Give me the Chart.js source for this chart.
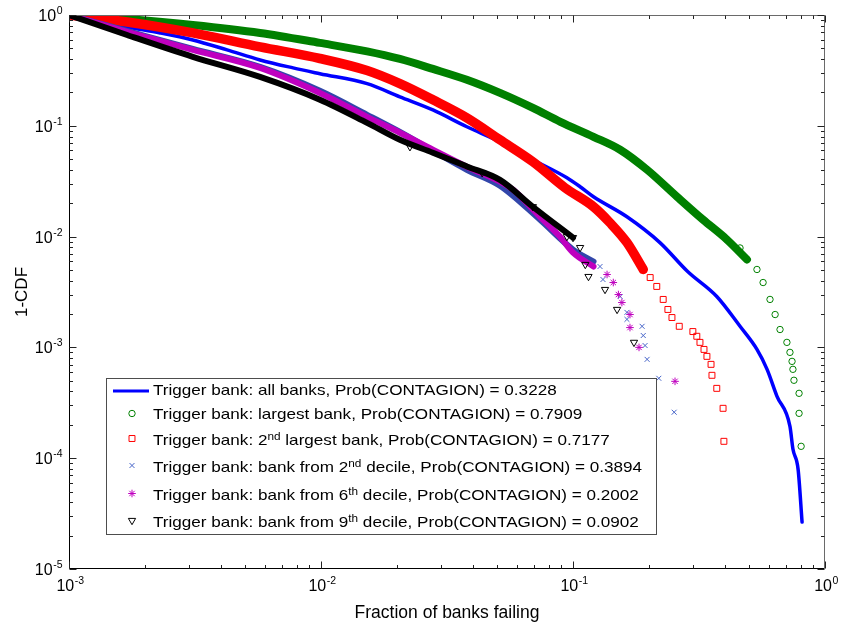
<!DOCTYPE html>
<html><head><meta charset="utf-8">
<script src="https://cdn.jsdelivr.net/npm/chart.js@4.4.0/dist/chart.umd.min.js"></script>
<style>
html,body{margin:0;padding:0;background:#fff;}
#wrap{position:relative;width:842px;height:624px;overflow:hidden;}
#legend{position:absolute;left:106px;top:378px;width:549px;height:155px;border:1px solid transparent;font-family:"Liberation Sans",Arial,sans-serif;font-size:14.5px;color:#000;}
#legend .row{position:absolute;left:46px;height:16px;line-height:16px;white-space:nowrap;transform-origin:0 50%;transform:scaleX(1.18);}
#legend sup{font-size:10px;line-height:0;position:relative;top:-5px;vertical-align:baseline;}
</style></head>
<body>
<div id="wrap">
<canvas id="chart" width="842" height="624"></canvas>
<div id="legend"></div>
</div>
<script>
// ---- tick labels (powers of ten) ----
const xTickExps = [-3, -2, -1, 0];
const yTickExps = [0, -1, -2, -3, -4, -5];

// ---- legend ----
const seriesLabels = [
  'Trigger bank: all banks',
  'Trigger bank: largest bank',
  'Trigger bank: 2<sup>nd</sup> largest bank',
  'Trigger bank: bank from 2<sup>nd</sup> decile',
  'Trigger bank: bank from 6<sup>th</sup> decile',
  'Trigger bank: bank from 9<sup>th</sup> decile'
];
const contagionProb = ['0.3228', '0.7909', '0.7177', '0.3894', '0.2002', '0.0902'];

// ---- all banks (line) ----
const allBanksX = [0.001, 0.0017, 0.0023, 0.0031, 0.00424, 0.00573, 0.00775, 0.0099, 0.01524, 0.02056, 0.0278, 0.0379, 0.0513, 0.0693, 0.0946, 0.1067, 0.1206, 0.1637, 0.2213, 0.285, 0.372, 0.46, 0.537, 0.589, 0.645, 0.726, 0.746, 0.782, 0.811];
const allBanksY = [1, 0.78, 0.689, 0.595, 0.484, 0.393, 0.333, 0.295, 0.240, 0.1825, 0.139, 0.098, 0.0718, 0.0494, 0.034, 0.0282, 0.0229, 0.0151, 0.00883, 0.00484, 0.00288, 0.00155, 0.000959, 0.000634, 0.000362, 0.000194, 0.000121, 0.0000796, 0.0000265];

// ---- largest bank (circles) ----
const largestBandX = [0.001, 0.0017, 0.0031, 0.00573, 0.0099, 0.01524, 0.02056, 0.0278, 0.0379, 0.0513, 0.0693, 0.0891, 0.1206, 0.1538, 0.1968, 0.2587, 0.328, 0.408, 0.49];
const largestBandY = [1, 0.920, 0.813, 0.689, 0.560, 0.470, 0.401, 0.326, 0.260, 0.198, 0.145, 0.1087, 0.0796, 0.0608, 0.0401, 0.0229, 0.01422, 0.0094, 0.00621];
const largestPtsX = [0.408, 0.46, 0.49, 0.537, 0.568, 0.605, 0.634, 0.663, 0.706, 0.726, 0.740, 0.746, 0.753, 0.789, 0.789, 0.804];
const largestPtsY = [0.0094, 0.0079, 0.00621, 0.00505, 0.00385, 0.00271, 0.00198, 0.00145, 0.00111, 0.000902, 0.000748, 0.000634, 0.000505, 0.000385, 0.000254, 0.000128];

// ---- 2nd largest bank (squares) ----
const secondBandX = [0.001, 0.0017, 0.0031, 0.00573, 0.0099, 0.01524, 0.02056, 0.0278, 0.0379, 0.0513, 0.0693, 0.0929, 0.1206, 0.140, 0.1637, 0.190];
const secondBandY = [1, 0.865, 0.689, 0.515, 0.405, 0.315, 0.240, 0.1715, 0.118, 0.0748, 0.0474, 0.0276, 0.0186, 0.01337, 0.00883, 0.00505];
const secondPtsX = [0.190, 0.2024, 0.215, 0.228, 0.238, 0.247, 0.264, 0.299, 0.310, 0.319, 0.331, 0.340, 0.353, 0.356, 0.372, 0.394, 0.397];
const secondPtsY = [0.00505, 0.00427, 0.00355, 0.00271, 0.00220, 0.00186, 0.00155, 0.00139, 0.00126, 0.00111, 0.000959, 0.00083, 0.000703, 0.00056, 0.000427, 0.000282, 0.000142];

// ---- bank from 2nd decile (x) ----
const dec2BandX = [0.001, 0.0017, 0.0031, 0.00573, 0.0099, 0.01524, 0.02056, 0.0278, 0.0379, 0.0513, 0.074, 0.1, 0.1206];
const dec2BandY = [1, 0.718, 0.494, 0.340, 0.207, 0.1257, 0.0880, 0.0595, 0.0401, 0.0288, 0.0142, 0.00764, 0.00595];
const dec2PtsX = [0.128, 0.1315, 0.1538, 0.1637, 0.1637, 0.188, 0.190, 0.1932, 0.1968, 0.219, 0.252];
const dec2PtsY = [0.00537, 0.0041, 0.00288, 0.00207, 0.00179, 0.00155, 0.00128, 0.00104, 0.00078, 0.000526, 0.00026];

// ---- bank from 6th decile (*) ----
const dec6BandX = [0.001, 0.0017, 0.0031, 0.00573, 0.0099, 0.01524, 0.02056, 0.0278, 0.0379, 0.0513, 0.0578, 0.074, 0.0887, 0.1, 0.1206];
const dec6BandY = [1, 0.703, 0.484, 0.333, 0.198, 0.1205, 0.0866, 0.0608, 0.0427, 0.0313, 0.0265, 0.0151, 0.0100, 0.00718, 0.00537];
const dec6PtsX = [0.1365, 0.1445, 0.1514, 0.1563, 0.1683, 0.1683, 0.1828, 0.254];
const dec6PtsY = [0.00455, 0.00385, 0.0030, 0.00254, 0.00198, 0.00151, 0.0010, 0.000494];

// ---- bank from 9th decile (triangles) ----
const dec9BandX = [0.001, 0.0017, 0.0031, 0.00573, 0.0099, 0.01524, 0.02056, 0.0278, 0.0379, 0.0513, 0.0693, 0.1];
const dec9BandY = [1, 0.660, 0.419, 0.276, 0.172, 0.1064, 0.0748, 0.0571, 0.0430, 0.0325, 0.0186, 0.0098];
const dec9PtsX = [0.02254, 0.0436, 0.0693, 0.0946, 0.1, 0.1067, 0.1119, 0.1152, 0.134, 0.1496, 0.1746];
const dec9PtsY = [0.0647, 0.0377, 0.0186, 0.0100, 0.0098, 0.00796, 0.0056, 0.00436, 0.00333, 0.0022, 0.00111];

const C_BLUE = '#0000ff', C_GREEN = '#008000', C_RED = '#ff0000',
      C_XB = '#4664c8', C_XBAND = '#3246aa', C_MAG = '#bf00bf', C_BLK = '#000000';

function pts(xs, ys) { return xs.map((x, i) => ({x: x, y: ys[i]})); }
function band(xs, ys, color, w, order) {
  return {data: pts(xs, ys), showLine: true, borderColor: color, backgroundColor: color, borderWidth: w,
          pointRadius: 0, borderCapStyle: 'round', borderJoinStyle: 'round',
          cubicInterpolationMode: 'monotone', order: order};
}
function marks(xs, ys, color, style, r, order, rot) {
  return {data: pts(xs, ys), showLine: false, pointStyle: style, pointRadius: r, pointBorderWidth: 1,
          pointBorderColor: color, pointBackgroundColor: 'rgba(0,0,0,0)', borderColor: color,
          pointRotation: rot || 0, order: order};
}

const FONT = '"Liberation Sans", Arial, sans-serif';

const axesPlugin = {
  id: 'matlabAxes',
  afterDatasetsDraw(chart) {
    const {ctx, chartArea: a} = chart;
    const xs = chart.scales.x, ys = chart.scales.y;
    const L = a.left + 0.5, R = a.right - 0.5, T = a.top + 0.5, B = a.bottom - 0.5;
    ctx.save();
    ctx.lineWidth = 1;
    ctx.strokeStyle = '#000';
    ctx.beginPath();
    ctx.moveTo(L, T); ctx.lineTo(L, B); ctx.lineTo(R, B);
    ctx.stroke();
    ctx.strokeStyle = '#6a6a6a';
    ctx.beginPath();
    ctx.moveTo(L, T); ctx.lineTo(R, T); ctx.lineTo(R, B);
    ctx.stroke();
    ctx.strokeStyle = '#222';
    ctx.beginPath();
    for (let e = -3; e <= 0; e++) {
      for (let m = 1; m <= 9; m++) {
        const v = m * Math.pow(10, e);
        if (v > 1.0000001) break;
        const px = Math.round(xs.getPixelForValue(v)) + 0.5;
        const len = m === 1 ? 7 : 3.5;
        ctx.moveTo(px, B); ctx.lineTo(px, B - len);
        ctx.moveTo(px, T); ctx.lineTo(px, T + len);
      }
    }
    for (let e = -5; e <= 0; e++) {
      for (let m = 1; m <= 9; m++) {
        const v = m * Math.pow(10, e);
        if (v > 1.0000001) break;
        const py = Math.round(ys.getPixelForValue(v)) + 0.5;
        const len = m === 1 ? 7 : 3.5;
        ctx.moveTo(L, py); ctx.lineTo(L + len, py);
        ctx.moveTo(R, py); ctx.lineTo(R - len, py);
      }
    }
    ctx.stroke();
    ctx.fillStyle = '#000';
    ctx.textBaseline = 'alphabetic';
    ctx.textAlign = 'left';
    const baseFont = '16px ' + FONT, expFont = '10.5px ' + FONT;
    function measure(exp) {
      ctx.font = baseFont; const wb = ctx.measureText('10').width;
      ctx.font = expFont; const we = ctx.measureText(String(exp)).width;
      return [wb, we];
    }
    function draw(exp, x0, yb) {
      const [wb] = measure(exp);
      ctx.font = baseFont; ctx.fillText('10', x0, yb);
      ctx.font = expFont; ctx.fillText(String(exp), x0 + wb + 0.5, yb - 7);
    }
    xTickExps.forEach(e => {
      const px = xs.getPixelForValue(Math.pow(10, e));
      const [wb, we] = measure(e);
      draw(e, px - (wb + we) / 2 + 1, a.bottom + 22);
    });
    yTickExps.forEach(e => {
      const py = ys.getPixelForValue(Math.pow(10, e));
      const [wb, we] = measure(e);
      draw(e, a.left - 7 - wb - we, py + 6);
    });

    // legend box and symbols (text is HTML overlay)
    const lx = 106, ly = 378, lw = 551, lh = 157;
    ctx.fillStyle = '#fff';
    ctx.fillRect(lx, ly, lw, lh);
    ctx.strokeStyle = '#4d4d4d';
    ctx.strokeRect(lx + 0.5, ly + 0.5, lw - 1, lh - 1);
    const ix = 132;
    ctx.lineWidth = 3;
    ctx.strokeStyle = C_BLUE;
    ctx.beginPath(); ctx.moveTo(113, 391); ctx.lineTo(149, 391); ctx.stroke();
    ctx.lineWidth = 1;
    const sym = [
      {style: 'circle', color: C_GREEN, y: 413.5, r: 3.2, rot: 0},
      {style: 'rect', color: C_RED, y: 438.5, r: 4.2, rot: 0},
      {style: 'crossRot', color: C_XB, y: 465.5, r: 3.5, rot: 0},
      {style: 'star', color: C_MAG, y: 493.5, r: 3.8, rot: 0},
      {style: 'triangle', color: C_BLK, y: 520.5, r: 4.2, rot: 180}
    ];
    sym.forEach(s => {
      ctx.strokeStyle = s.color;
      ctx.fillStyle = 'rgba(0,0,0,0)';
      Chart.helpers.drawPoint(ctx, {pointStyle: s.style, radius: s.r, rotation: s.rot, borderWidth: 1}, ix, s.y);
    });
    ctx.restore();
  }
};

const chart = new Chart(document.getElementById('chart'), {
  type: 'scatter',
  data: {
    datasets: [
      band(allBanksX, allBanksY, C_BLUE, 3.5, 60),
      band(largestBandX, largestBandY, C_GREEN, 8, 50),
      marks(largestPtsX, largestPtsY, C_GREEN, 'circle', 3.2, 49),
      band(secondBandX, secondBandY, C_RED, 9.5, 40),
      marks(secondPtsX, secondPtsY, C_RED, 'rect', 4.2, 39),
      band(dec2BandX, dec2BandY, C_XBAND, 6, 30),
      marks(dec2PtsX, dec2PtsY, C_XB, 'crossRot', 3.5, 29),
      band(dec6BandX, dec6BandY, C_MAG, 6, 20),
      marks(dec6PtsX, dec6PtsY, C_MAG, 'star', 3.8, 19),
      band(dec9BandX, dec9BandY, C_BLK, 6, 10),
      marks(dec9PtsX, dec9PtsY, C_BLK, 'triangle', 4.2, 9, 180)
    ]
  },
  options: {
    responsive: false,
    devicePixelRatio: 1,
    animation: false,
    layout: {padding: {left: 0, right: 17, top: 15, bottom: 0}},
    plugins: {legend: {display: false}, tooltip: {enabled: false}},
    scales: {
      x: {
        type: 'logarithmic', min: 0.001, max: 1,
        grid: {display: false, drawTicks: false},
        border: {display: false},
        ticks: {display: false},
        title: {display: true, text: 'Fraction of banks failing', color: '#000',
                font: {family: FONT, size: 17.5}, padding: {top: 0, bottom: 0}},
        afterFit(s) { s.height = 55; }
      },
      y: {
        type: 'logarithmic', min: 0.00001, max: 1,
        grid: {display: false, drawTicks: false},
        border: {display: false},
        ticks: {display: false},
        title: {display: true, text: '1-CDF', color: '#000',
                font: {family: FONT, size: 17}, padding: {top: 12, bottom: 0}},
        afterFit(s) { s.width = 69; }
      }
    }
  },
  plugins: [axesPlugin]
});

(function () {
  const lg = document.getElementById('legend');
  const rowTops = [3, 27, 53, 80, 108, 135];
  let html = '';
  seriesLabels.forEach((s, i) => {
    html += '<div class="row" style="top:' + rowTops[i] + 'px">' + s + ', Prob(CONTAGION) = ' + contagionProb[i] + '</div>';
  });
  lg.innerHTML = html;
})();
</script>
</body></html>
